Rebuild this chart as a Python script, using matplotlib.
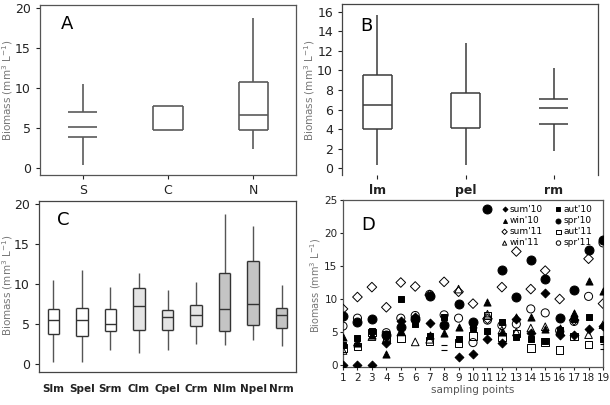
import numpy as np
import matplotlib
matplotlib.use('Agg')
import matplotlib.pyplot as plt
from matplotlib.patches import Rectangle

# --- A: 地域別 ---
a_labels = ['S', 'C', 'N']
a_lo  = [0.3, 4.7, 2.3]
a_q1  = [3.8, 4.7, 4.7]
a_med = [5.1, np.nan, 6.6]
a_q3  = [7.0, 7.7, 10.8]
a_hi  = [10.5, 7.7, 18.8]

# --- B: 生息域別 ---
b_labels = ['lm', 'pel', 'rm']
b_lo  = [0.3, 0.3, 1.8]
b_q1  = [4.0, 4.1, 4.5]
b_med = [6.5, np.nan, 6.2]
b_q3  = [9.5, 7.7, 7.1]
b_hi  = [15.7, 12.8, 10.3]

# --- C: 地域 x 生息域 ---
c_labels = ['Slm', 'Spel', 'Srm', 'Clm', 'Cpel', 'Crm', 'Nlm', 'Npel', 'Nrm']
c_lo  = [0.2, 0.2, 1.7, 1.4, 1.8, 2.5, 2.4, 3.0, 2.3]
c_q1  = [3.8, 3.5, 4.1, 4.3, 4.2, 4.7, 4.1, 4.9, 4.5]
c_med = [5.5, 5.5, 5.0, 7.2, 5.9, 6.1, 6.9, 7.5, 6.1]
c_q3  = [6.9, 7.0, 6.9, 9.5, 6.8, 7.4, 11.4, 12.9, 7.0]
c_hi  = [10.5, 11.8, 9.7, 11.4, 9.3, 10.3, 18.8, 17.3, 9.9]

# --- D: 地点別 季節別 ---
points = np.arange(1, 20)
nan = np.nan
sum10 = [0.0, 0.0, 0.0, 3.4, 6.6, 7.3, 6.4, nan, 1.2, 1.6, 4.0, 3.4, 6.9, 4.9, 10.9, 4.5, 4.6, 5.4, 5.9]
aut10 = [3.1, 4.1, 5.1, 4.7, 10.0, 6.2, 4.4, 7.3, 4.0, 5.6, 5.1, 6.5, 4.3, 3.9, 3.6, 5.3, 7.0, 7.2, 3.9]
win10 = [4.3, 3.4, 4.6, 1.6, 5.2, 7.2, 4.6, 4.8, 5.7, 6.2, 9.6, 5.0, 7.2, 7.3, 5.4, 5.6, 7.9, 12.7, 11.2]
spr10 = [7.4, 6.5, 7.0, 4.5, 5.7, 7.0, 10.4, 6.1, 9.3, 6.5, 23.6, 14.4, 10.3, 15.9, 13.1, 7.1, 11.4, 17.5, 19.0]
sum11 = [8.5, 10.3, 11.8, 8.75, 12.5, 11.9, 10.6, 12.6, 11.1, 9.3, 7.0, 11.8, 17.2, 11.5, 14.3, 10.0, 6.8, 16.1, 9.3]
aut11 = [2.6, 2.8, 4.9, 4.1, 4.0, nan, 3.6, nan, 3.3, 4.4, 7.5, 4.2, 4.8, 2.6, 3.5, 2.3, 4.3, 3.1, nan]
win11 = [2.2, 3.5, 4.3, 4.0, 5.0, 3.5, 3.9, nan, 11.5, nan, 7.7, 5.3, 5.0, 5.6, 5.8, 5.2, 7.5, 4.6, 6.1]
spr11 = [5.9, 7.1, nan, 4.9, 7.1, 7.5, 10.7, 7.6, 7.1, 3.4, 6.8, 6.0, 6.2, 8.5, 7.9, 5.2, 6.6, 10.4, 18.5]
dash_x = [8, 8, 19, 19]
dash_y = [3.0, 2.2, 3.2, 2.4]

YLABEL = 'Biomass (mm$^3$ L$^{-1}$)'
W, H = 610, 405


def px_axes(fig, l, t, r, b):
    """
    @brief:
      ピクセル座標からaxesを作成します
    """
    return fig.add_axes([l / W, (H - b) / H, (r - l) / W, (b - t) / H])


def draw_box(ax, x, lo, q1, med, q3, hi, width, color, face=None, sides=True, lw=1.1, wcolor=None):
    """
    @brief:
      箱ひげ図を1本描きます
    """
    half = width / 2
    wcolor = color if wcolor is None else wcolor
    if face is not None:
        ax.add_patch(Rectangle((x - half, q1), width, q3 - q1,
                               facecolor=face, edgecolor='none', zorder=1))
    ax.vlines(x, lo, q1, colors=wcolor, lw=lw, zorder=2)
    ax.vlines(x, q3, hi, colors=wcolor, lw=lw, zorder=2)
    ys = [v for v in (q1, med, q3) if not np.isnan(v)]
    ax.hlines(ys, x - half, x + half, colors=color, lw=lw, zorder=3)
    if sides:
        ax.vlines([x - half, x + half], q1, q3, colors=color, lw=lw, zorder=3)


def style_axes(ax, color='#444444'):
    for s in ax.spines.values():
        s.set_color(color)
        s.set_linewidth(0.9)
    ax.tick_params(colors='#222222', width=0.8, length=3)


fig = plt.figure(figsize=(W / 100, H / 100), dpi=100)

# ---------- A ----------
ax = px_axes(fig, 40, 5, 296, 175)
for i in range(len(a_labels)):
    draw_box(ax, i + 1, a_lo[i], a_q1[i], a_med[i], a_q3[i], a_hi[i], 0.34,
             '#5a5a5a', sides=(i != 0), lw=1.2)
ax.set_xlim(0.5, 3.5)
ax.set_ylim(-0.9, 20.4)
ax.set_yticks([0, 5, 10, 15, 20])
ax.set_xticks([1, 2, 3])
ax.set_xticklabels(a_labels)
style_axes(ax, '#555555')
ax.tick_params(labelsize=9)
ax.text(0.08, 0.86, 'A', transform=ax.transAxes, fontsize=13)
fig.text(8 / W, 1 - 90 / H, YLABEL, rotation=90, ha='center', va='center',
         fontsize=7.5, color='#777777')

# ---------- B ----------
ax = px_axes(fig, 342, 4, 598, 175)
for i in range(len(b_labels)):
    draw_box(ax, i + 1, b_lo[i], b_q1[i], b_med[i], b_q3[i], b_hi[i], 0.33,
             '#3a3a3a', sides=(i != 2), lw=1.1)
ax.set_xlim(0.6, 3.5)
ax.set_ylim(-0.7, 16.8)
ax.set_yticks(np.arange(0, 17, 2))
ax.set_xticks([1, 2, 3])
ax.set_xticklabels(b_labels, fontweight='bold')
style_axes(ax, '#444444')
ax.tick_params(labelsize=9)
ax.spines['bottom'].set_visible(False)
ax.text(0.07, 0.84, 'B', transform=ax.transAxes, fontsize=13)
fig.text(310 / W, 1 - 90 / H, YLABEL, rotation=90, ha='center', va='center',
         fontsize=7.5, color='#777777')

# ---------- C ----------
ax = px_axes(fig, 39, 201, 296, 372)
faces = ['white'] * 3 + ['#e4e4e4'] * 3 + ['#c4c4c4'] * 3
for i in range(len(c_labels)):
    draw_box(ax, i + 1, c_lo[i], c_q1[i], c_med[i], c_q3[i], c_hi[i], 0.4,
             '#333333', face=faces[i], lw=1.0, wcolor='#555555')
ax.set_xlim(0.5, 9.5)
ax.set_ylim(-1.0, 20.4)
ax.set_yticks([0, 5, 10, 15, 20])
ax.set_xticks(np.arange(1, 10))
ax.set_xticklabels(c_labels, fontweight='semibold', color='#333333')
style_axes(ax, '#444444')
ax.tick_params(axis='y', labelsize=9)
ax.tick_params(axis='x', labelsize=7.5, length=0, pad=9)
ax.text(0.07, 0.86, 'C', transform=ax.transAxes, fontsize=13)
fig.text(8 / W, 1 - 285 / H, YLABEL, rotation=90, ha='center', va='center',
         fontsize=7.5, color='#777777')

# ---------- D ----------
ax = px_axes(fig, 343, 200, 603, 367)
series = [
    (sum10, 'D', 'black', "sum'10", 20),
    (aut10, 's', 'black', "aut'10", 22),
    (win10, '^', 'black', "win'10", 26),
    (spr10, 'o', 'black', "spr'10", 42),
    (sum11, 'D', 'none', "sum'11", 24),
    (aut11, 's', 'none', "aut'11", 30),
    (win11, '^', 'none', "win'11", 30),
    (spr11, 'o', 'none', "spr'11", 34),
]
handles = []
for vals, mk, fc, lab, sz in series:
    h = ax.scatter(points, vals, marker=mk, s=sz, facecolors=fc,
                   edgecolors='black', linewidths=0.7, label=lab, zorder=3)
    handles.append(h)
ax.scatter(dash_x, dash_y, marker='_', s=25, color='black', linewidths=0.8, zorder=3)
ax.set_xlim(1, 19)
ax.set_ylim(-0.3, 25)
ax.set_xticks(points)
ax.set_yticks([0, 5, 10, 15, 20, 25])
style_axes(ax, '#555555')
ax.tick_params(labelsize=7.5, pad=1.5, length=2.5)
ax.set_xlabel('sampling points', fontsize=7.5, color='#555555', labelpad=2)
ax.text(0.07, 0.82, 'D', transform=ax.transAxes, fontsize=13)
order = [0, 2, 4, 6, 1, 3, 5, 7]
ax.legend([handles[k] for k in order], [series[k][3] for k in order],
          ncol=2, loc='upper right', bbox_to_anchor=(0.985, 1.01), frameon=False,
          fontsize=6.5, markerscale=0.55, handletextpad=0.1, columnspacing=1.2,
          labelspacing=0.25, handlelength=1.0, borderpad=0.2)
fig.text(316 / W, 1 - 285 / H, YLABEL, rotation=90, ha='center', va='center',
         fontsize=7, color='#777777')

fig.savefig('out.png', dpi=100)
